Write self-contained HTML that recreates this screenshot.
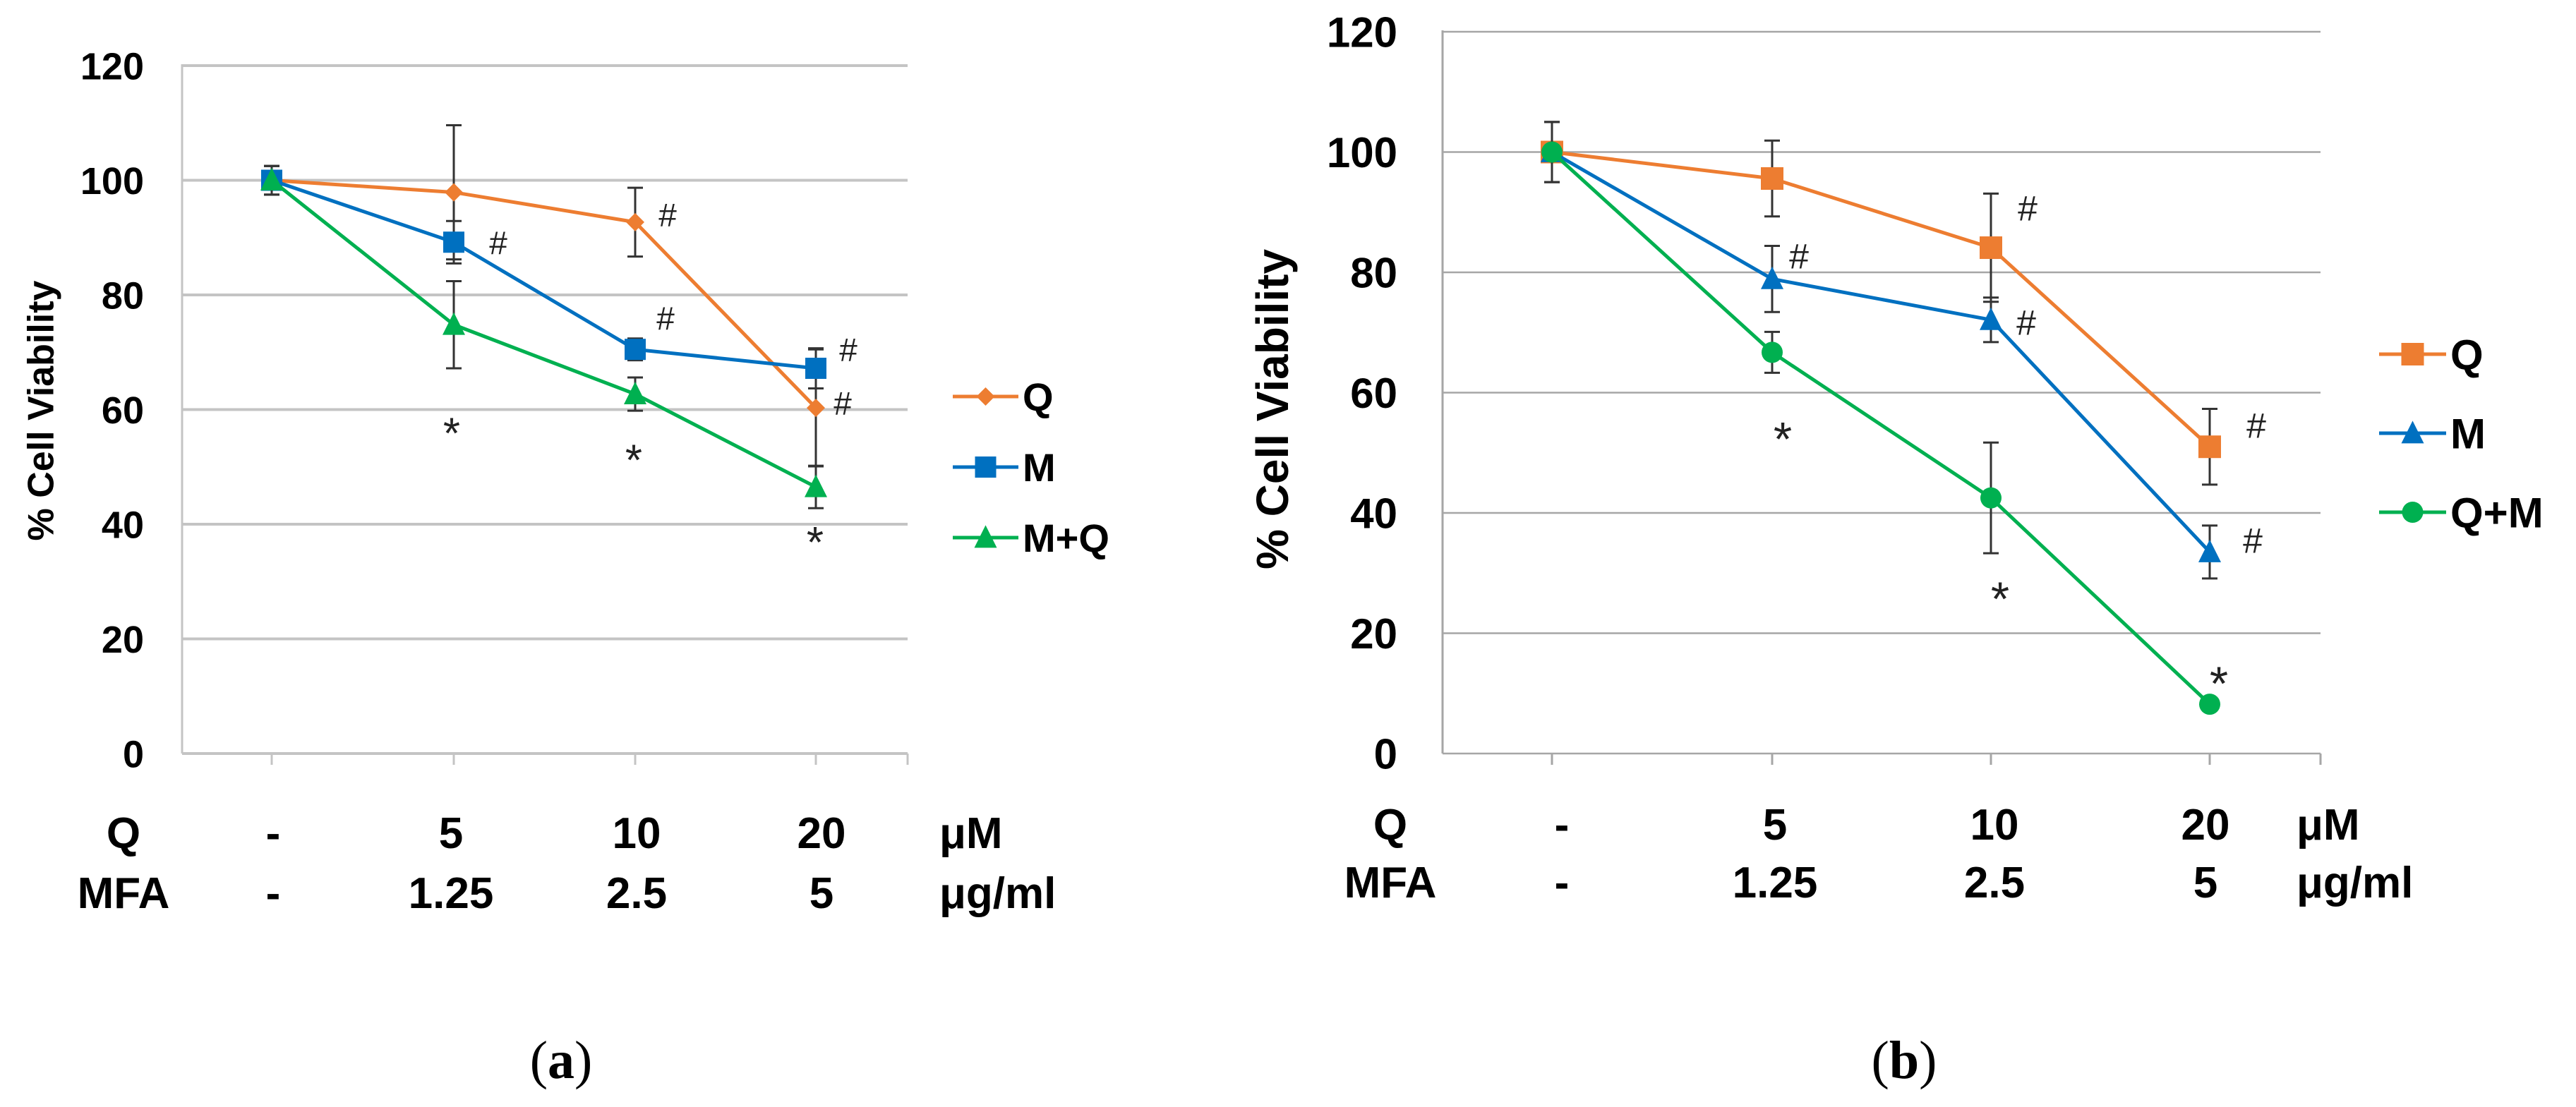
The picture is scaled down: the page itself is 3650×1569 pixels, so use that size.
<!DOCTYPE html>
<html><head><meta charset="utf-8"><style>
html,body{margin:0;padding:0;background:#fff;}
svg{display:block;}
text{font-family:"Liberation Sans",sans-serif;}
</style></head><body>
<svg id="fig" width="3650" height="1569" viewBox="0 0 3650 1569" xmlns="http://www.w3.org/2000/svg"></svg>
<script>
// ---- Panel (a) data ----
const categoriesA = ["-", "5", "10", "20"];
const mfaA = ["-", "1.25", "2.5", "5"];
const yTicksA = [0, 20, 40, 60, 80, 100, 120];
const qA = [100, 97.9, 92.7, 60.3];
const qErrA = [2.5, 11.7, 6, 10.2];
const mA = [100, 89.2, 70.5, 67.2];
const mErrA = [2.5, 3.7, 1.9, 3.5];
const mqA = [100, 74.8, 62.7, 46.5];
const mqErrA = [2.5, 7.6, 2.9, 3.7];
// ---- Panel (b) data ----
const categoriesB = ["-", "5", "10", "20"];
const mfaB = ["-", "1.25", "2.5", "5"];
const yTicksB = [0, 20, 40, 60, 80, 100, 120];
const qB = [100, 95.6, 84.1, 51.0];
const qErrB = [5, 6.3, 9, 6.3];
const mB = [100, 78.9, 72.1, 33.5];
const mErrB = [5, 5.5, 3.7, 4.4];
const qmB = [100, 66.7, 42.5, 8.2];
const qmErrB = [5, 3.4, 9.2, 0];

const NS = "http://www.w3.org/2000/svg";
const svg = document.getElementById("fig");
function mk(tag, attrs, parent, txt){
  const e = document.createElementNS(NS, tag);
  for (const k in attrs) e.setAttribute(k, attrs[k]);
  if (txt !== undefined) e.textContent = txt;
  (parent || svg).appendChild(e);
  return e;
}
const ORANGE="#ED7D31", BLUE="#0070C0", GREEN="#00B050";

function marker(g, shape, x, y, s, color){
  let e;
  if (shape==="square") e = mk("rect",{x:x-s/2,y:y-s/2,width:s,height:s,fill:color},g);
  else if (shape==="diamond") e = mk("polygon",{points:`${x},${y-s/2} ${x+s/2},${y} ${x},${y+s/2} ${x-s/2},${y}`,fill:color},g);
  else if (shape==="triangle") e = mk("polygon",{points:`${x},${y-s*0.55} ${x+s/2},${y+s*0.45} ${x-s/2},${y+s*0.45}`,fill:color},g);
  else e = mk("circle",{cx:x,cy:y,r:s/2,fill:color},g);
  return e;
}

function panel(P){
  const g = mk("g",{});
  
  
  const yS = v => P.y0 - (v/120)*(P.y0-P.y120);
  const xS = i => P.cx[i];
  P.yTicks.forEach(t=>{
    if (t===0) return;
    const l = mk("line",{x1:P.left,x2:P.right,y1:yS(t),y2:yS(t),stroke:P.gridColor,"stroke-width":P.gridW},g);
    
    
  });
  const ya = mk("line",{x1:P.left,x2:P.left,y1:P.y120-2,y2:P.y0,stroke:P.gridColor,"stroke-width":3},g);
  
  
  const xa = mk("line",{x1:P.left,x2:P.right,y1:P.y0,y2:P.y0,stroke:P.gridColor,"stroke-width":P.gridW},g);
  
  
  P.cx.concat([P.right]).forEach(x=>{
    const t = mk("line",{x1:x,x2:x,y1:P.y0,y2:P.y0+16,stroke:P.gridColor,"stroke-width":3},g);
    
    
  });
  P.yTicks.forEach(t=>{
    const tx = mk("text",{x:P.yLabX,y:yS(t)+P.tickFs*0.36,"text-anchor":"end","font-size":P.tickFs,"font-weight":"bold",fill:"#000"},g,String(t));
    
    
  });
  const yt = mk("text",{x:P.yTitleX,y:P.yTitleY,"text-anchor":"middle","font-size":P.yTitleFs,"font-weight":"bold",transform:`rotate(-90 ${P.yTitleX} ${P.yTitleY})`,"dominant-baseline":"middle"},g,"% Cell Viability");
  
  
  P.series.forEach(s=>{
    const sg = mk("g",{},g);
    
    
    s.vals.forEach((v,i)=>{
      if (!s.err[i]) return;
      const x = xS(i), y1 = yS(v+s.err[i]), y2 = yS(v-s.err[i]);
      const eb = mk("path",{d:`M${x},${y1}V${y2}M${x-11},${y1}H${x+11}M${x-11},${y2}H${x+11}`,stroke:"#333","stroke-width":3,fill:"none"},sg);
      
      
    });
    const pts = s.vals.map((v,i)=>`${xS(i)},${yS(v)}`).join(" ");
    const pl = mk("polyline",{points:pts,fill:"none",stroke:s.color,"stroke-width":P.lineW},sg);
    
    
    s.vals.forEach((v,i)=>{
      const m = marker(sg, s.shape, xS(i), yS(v), s.size, s.color);
      
      
    });
    s.ann.forEach(a=>{
      const fs = a.t==="*" ? P.annFs*1.35 : P.annFs;
      const at = mk("text",{x:xS(a.i)+a.dx,y:yS(s.vals[a.i])+a.dy+(a.t==="*"?fs*0.3:0),"text-anchor":"middle","dominant-baseline":"middle","font-size":fs,fill:"#222"},sg,a.t);
      
      
    });
  });
  P.series.forEach((s,k)=>{
    const lg = mk("g",{},g);
    
    
    const y = P.legY[k];
    mk("line",{x1:P.legX1,x2:P.legX2,y1:y,y2:y,stroke:s.color,"stroke-width":P.lineW},lg);
    marker(lg, s.shape, (P.legX1+P.legX2)/2, y, s.size, s.color);
    mk("text",{x:P.legX2+6,y:y+P.legFs*0.36,"font-size":P.legFs,"font-weight":"bold"},lg,s.label);
  });
  const rows = [[P.rowLab[0], P.cats, "\u03bcM"],[P.rowLab[1], P.mfa, "\u03bcg/ml"]];
  rows.forEach((r,ri)=>{
    const by = P.rowY[ri];
    const rl = mk("text",{x:P.rowLabX,y:by,"text-anchor":"middle","font-size":P.tabFs,"font-weight":"bold"},g,r[0]);
    
    
    r[1].forEach((c,i)=>{
      const ct = mk("text",{x:xS(i)+P.tabDx[i],y:by,"text-anchor":"middle","font-size":P.tabFs,"font-weight":"bold"},g,c);
      
      
    });
    const u = mk("text",{x:P.unitX,y:by,"font-size":P.tabFs,"font-weight":"bold"},g,r[2]);
    
    
  });
  const cap = mk("text",{x:P.capX,y:1528,"text-anchor":"middle","font-size":76,style:"font-family:'Liberation Serif',serif"},g);
  
  
  mk("tspan",{},cap,"(");
  mk("tspan",{"font-weight":"bold"},cap,P.cap);
  mk("tspan",{},cap,")");
}

panel({
  name:"panel-a", left:258, right:1286, y120:93, y0:1068, cx:[385,643,900,1156],
  gridColor:"#c4c4c4", gridW:4, lineW:5, yTicks:yTicksA, yLabX:204, tickFs:54,
  yTitleX:62, yTitleY:582, yTitleFs:52, annFs:46,
  series:[
    {key:"q",label:"Q",vals:qA,err:qErrA,color:ORANGE,shape:"diamond",size:26,
     ann:[{i:2,t:"#",dx:46,dy:-6},{i:3,t:"#",dx:38,dy:-2}]},
    {key:"m",label:"M",vals:mA,err:mErrA,color:BLUE,shape:"square",size:30,
     ann:[{i:1,t:"#",dx:63,dy:5},{i:2,t:"#",dx:43,dy:-40},{i:3,t:"#",dx:46,dy:-22}]},
    {key:"m-plus-q",label:"M+Q",vals:mqA,err:mqErrA,color:GREEN,shape:"triangle",size:32,
     ann:[{i:1,t:"*",dx:-3,dy:140},{i:2,t:"*",dx:-2,dy:80},{i:3,t:"*",dx:-1,dy:65}]}
  ],
  legX1:1350, legX2:1443, legY:[562,662,762], legFs:56,
  cats:categoriesA, mfa:mfaA, rowLab:["Q","MFA"], rowLabX:175, rowY:[1202,1287],
  tabDx:[2,-4,2,8], tabFs:62, unitX:1331, capX:795, cap:"a"
});
panel({
  name:"panel-b", left:2044, right:3288, y120:45, y0:1068, cx:[2199,2511,2821,3131],
  gridColor:"#a6a6a6", gridW:2.5, lineW:5, yTicks:yTicksB, yLabX:1980, tickFs:60,
  yTitleX:1808, yTitleY:580, yTitleFs:64, annFs:50,
  series:[
    {key:"q",label:"Q",vals:qB,err:qErrB,color:ORANGE,shape:"square",size:32,
     ann:[{i:2,t:"#",dx:52,dy:-52},{i:3,t:"#",dx:66,dy:-26}]},
    {key:"m",label:"M",vals:mB,err:mErrB,color:BLUE,shape:"triangle",size:32,
     ann:[{i:1,t:"#",dx:38,dy:-28},{i:2,t:"#",dx:50,dy:8},{i:3,t:"#",dx:61,dy:-12}]},
    {key:"q-plus-m",label:"Q+M",vals:qmB,err:qmErrB,color:GREEN,shape:"circle",size:30,
     ann:[{i:1,t:"*",dx:15,dy:108},{i:2,t:"*",dx:13,dy:128},{i:3,t:"*",dx:13,dy:-44}]}
  ],
  legX1:3371, legX2:3466, legY:[502,614,726], legFs:60,
  cats:categoriesB, mfa:mfaB, rowLab:["Q","MFA"], rowLabX:1970, rowY:[1190,1272],
  tabDx:[14,4,5,-6], tabFs:62, unitX:3254, capX:2698, cap:"b"
});
</script>
</body></html>
